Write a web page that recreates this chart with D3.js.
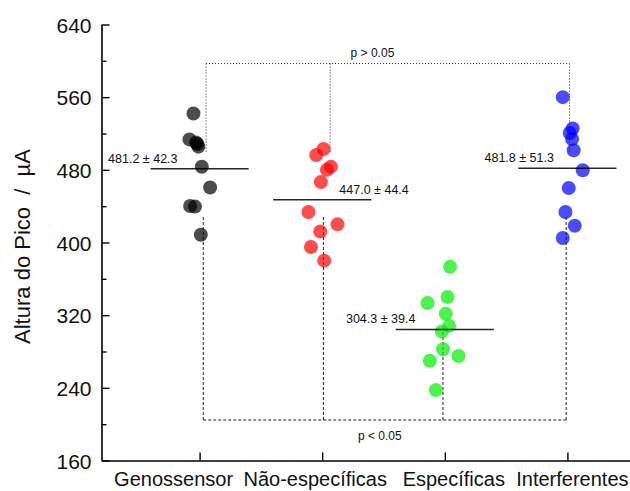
<!DOCTYPE html>
<html>
<head>
<meta charset="utf-8">
<script src="https://cdn.jsdelivr.net/npm/d3@7"></script>
<style>
  html, body { margin: 0; padding: 0; background: #fff; }
  svg text { font-family: "Liberation Sans", Arial, Helvetica, sans-serif; fill: #111; }
</style>
</head>
<body>
<svg id="chart" width="630" height="491"></svg>
<script>
// Group names on the category axis
const categories = ["Genossensor", "Não-específicas", "Específicas", "Interferentes"];

// Peak heights (µA) measured for each group
const genossensor = [542, 513.5, 510, 508.4, 505.5, 483.4, 460.5, 440.2, 439.5, 408.5];
const naoEspecificas = [503, 496.3, 483.5, 480, 466.5, 433.6, 420, 412, 395.1, 380];
const especificas = [373.2, 340, 333.3, 321.5, 308.2, 302, 282.5, 275, 269.8, 237.5];
const interferentes = [560, 525.5, 520.5, 514, 501.5, 479.5, 460, 433.5, 418.5, 405];

// Horizontal spread of each point around its category (category units)
const jitterGeno = [-0.05, -0.083, -0.029, -0.018, -0.01, 0.018, 0.086, -0.077, -0.037, 0.01];
const jitterNao = [0.011, -0.049, 0.071, 0.038, -0.011, -0.112, 0.125, -0.016, -0.092, 0.016];
const jitterEsp = [0.043, 0.022, -0.141, 0.008, 0.035, -0.024, -0.014, 0.112, -0.122, -0.073];
const jitterInter = [-0.038, 0.043, 0.019, 0.038, 0.051, 0.125, 0.011, -0.016, 0.06, -0.038];

// Group mean and standard deviation
const means = [481.2, 447.0, 304.3, 481.8];
const sds = [42.3, 44.4, 39.4, 51.3];

// Y axis ticks
const yMajorTicks = [160, 240, 320, 400, 480, 560, 640];
const yMinorTicks = [200, 280, 360, 440, 520, 600];

// Significance brackets: level, group positions, and where each leg ends
const bracketHigh = { label: "p > 0.05", level: 597, xs: [1.053, 2.065, 4.017], legEnds: [498, 498, 498] };
const bracketLow = { label: "p < 0.05", level: 204.6, xs: [1.03, 2.01, 2.985, 3.99], legEnds: [430, 430, 304.3, 430] };

const colors = ["#000000", "#ff0000", "#00ee00", "#0000ff"];
const seriesValues = [genossensor, naoEspecificas, especificas, interferentes];
const seriesJitter = [jitterGeno, jitterNao, jitterEsp, jitterInter];

// Label placement tweaks
const catLabelNudge = [-26, -7, 9, 5];        // px
const statLabelDx = [-0.18, 0.14, -0.24, -0.11]; // category units
const statLabelAnchor = ["end", "start", "end", "end"];

const svg = d3.select("#chart");

const x = d3.scaleLinear().domain([0.2, 4.8]).range([101.5, 665.5]);
const y = d3.scaleLinear().domain([160, 640]).range([460.5, 24.5]);

// Axes
const yAxis = d3.axisLeft(y).tickValues(yMajorTicks).tickSize(-8).tickSizeOuter(0).tickPadding(10);
const gy = svg.append("g").attr("transform", `translate(${x(0.2)},0)`).call(yAxis);
gy.selectAll("text").style("font-size", "21px").attr("dy", "0.36em");
gy.select(".domain").attr("stroke-width", 1.6);
gy.selectAll(".tick line").attr("stroke-width", 1.4);

const gyMinor = svg.append("g").attr("transform", `translate(${x(0.2)},0)`)
  .call(d3.axisLeft(y).tickValues(yMinorTicks).tickSize(-5).tickFormat(""));
gyMinor.select(".domain").remove();
gyMinor.selectAll(".tick line").attr("stroke-width", 1.4);

const xAxis = d3.axisBottom(x).tickValues([1, 2, 3, 4]).tickSize(-8).tickSizeOuter(0).tickFormat("");
const gx = svg.append("g").attr("transform", `translate(0,${y(160)})`).call(xAxis);
gx.select(".domain").attr("stroke-width", 1.6);
gx.selectAll(".tick line").attr("stroke-width", 1.4);

svg.append("g").selectAll("text").data(categories).join("text")
  .attr("x", (d, i) => x(i + 1) + catLabelNudge[i])
  .attr("y", 486)
  .attr("text-anchor", "middle")
  .style("font-size", "20px")
  .text(d => d);

// Y axis title
svg.append("text")
  .attr("transform", `translate(30,${(y(160) + y(640)) / 2 + 4}) rotate(-90)`)
  .attr("text-anchor", "middle")
  .style("font-size", "22px")
  .style("white-space", "pre")
  .text("Altura do Pico  /  µA");

// Brackets
function drawBracket(b, dash) {
  const g = svg.append("g").attr("fill", "none").attr("stroke", "#222")
    .attr("stroke-width", 1).attr("stroke-dasharray", dash);
  g.append("line")
    .attr("x1", x(d3.min(b.xs))).attr("x2", x(d3.max(b.xs)))
    .attr("y1", y(b.level)).attr("y2", y(b.level));
  b.xs.forEach((xv, i) => {
    g.append("line").attr("x1", x(xv)).attr("x2", x(xv))
      .attr("y1", y(b.level)).attr("y2", y(b.legEnds[i]));
  });
}
drawBracket(bracketHigh, "1,2");
drawBracket(bracketLow, "3,2");

svg.append("text").attr("x", x(2.41)).attr("y", y(bracketHigh.level) - 7)
  .attr("text-anchor", "middle").style("font-size", "12px").text(bracketHigh.label);
svg.append("text").attr("x", x(2.47)).attr("y", y(bracketLow.level) + 20)
  .attr("text-anchor", "middle").style("font-size", "12px").text(bracketLow.label);

// Points
seriesValues.forEach((vals, gi) => {
  svg.append("g").selectAll("circle").data(vals).join("circle")
    .attr("cx", (d, i) => x(gi + 1 + seriesJitter[gi][i]))
    .attr("cy", d => y(d))
    .attr("r", 7)
    .attr("fill", colors[gi])
    .attr("fill-opacity", 0.7);
});

// Mean lines and mean ± SD labels
means.forEach((m, i) => {
  svg.append("line")
    .attr("x1", x(i + 1 - 0.4)).attr("x2", x(i + 1 + 0.4))
    .attr("y1", y(m)).attr("y2", y(m))
    .attr("stroke", "#000").attr("stroke-opacity", 0.85).attr("stroke-width", 1.6);
  svg.append("text")
    .attr("x", x(i + 1 + statLabelDx[i]))
    .attr("y", y(m) - 6)
    .attr("text-anchor", statLabelAnchor[i])
    .style("font-size", "12.5px")
    .text(`${m.toFixed(1)} ± ${sds[i].toFixed(1)}`);
});
</script>
</body>
</html>
